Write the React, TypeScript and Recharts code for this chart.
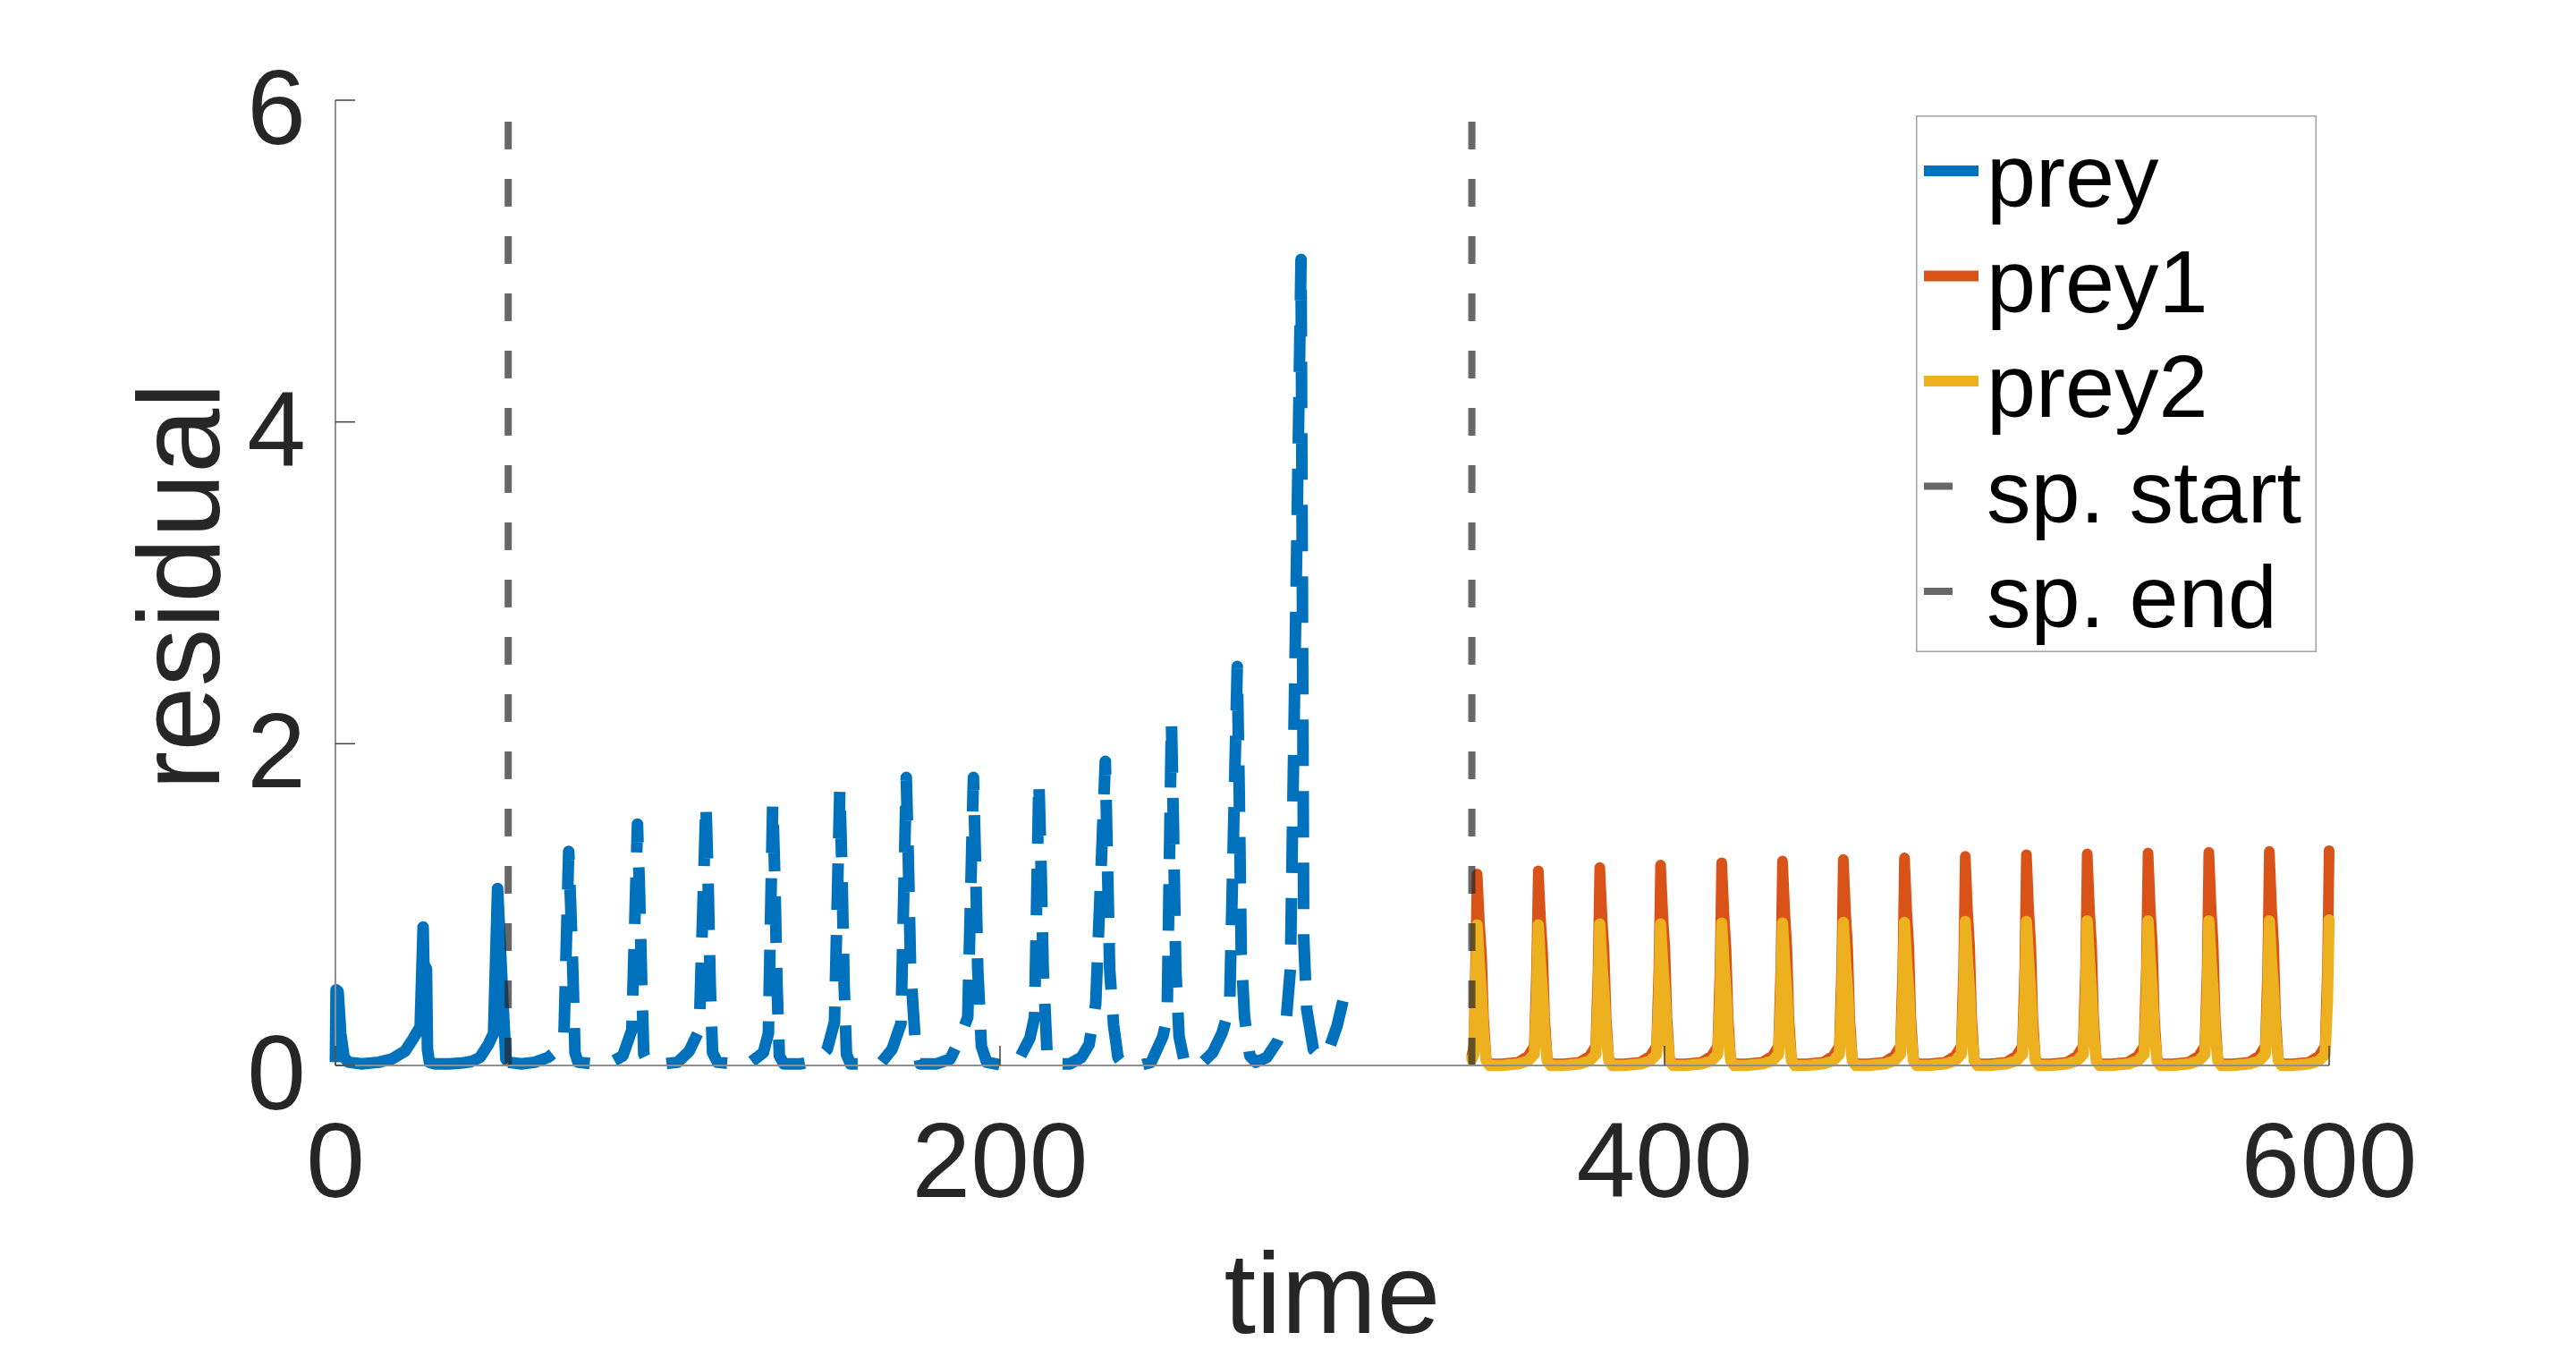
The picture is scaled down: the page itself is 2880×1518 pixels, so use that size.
import { LineChart, Line, XAxis, YAxis, Legend } from "recharts";

const W = 2880;
const H = 1518;
const PLOT = { left: 375, top: 112, right: 2604, bottom: 1191 };
const FONT = '"Liberation Sans", Arial, Helvetica, sans-serif';
const TICK_LEN = 22;

const BLUE = "#0072BD";
const ORANGE = "#D95319";
const YELLOW = "#EDB120";
const XLINE = "#262626";
const AXIS = "#8f8f8f";
const TICK = "#404040";
const TEXT = "#262626";

const xTicks = [0, 200, 400, 600];
const yTicks = [0, 2, 4, 6];

// sp. start / sp. end markers
const spStart = 52;
const spEnd = 342;

// prey, solid part before the start marker
const preyTime = [
  0, 0.2, 0.8, 1.6, 2.6, 4, 8, 13, 17, 21, 23.5, 25.5, 26.4, 26.6, 27.4, 27.7, 28.3, 30,
  34, 38, 41, 43.5, 46, 47.6, 48.8, 49.6, 50.4, 51.3, 52,
];
const preyValues = [
  0.02, 0.47, 0.46, 0.2, 0.05, 0.02, 0.01, 0.02, 0.04, 0.09, 0.17, 0.24, 0.86, 0.63, 0.6, 0.1, 0.02, 0.01,
  0.01, 0.015, 0.025, 0.05, 0.13, 0.2, 1.1, 0.75, 0.4, 0.04, 0.02,
];

// prey, dashed part after the start marker
const preyDashTime = [
  52, 56, 60, 64, 67, 68.8, 70.2, 70.8, 71.5, 72.1, 73,
  78, 83, 86.5, 89.2, 90.9, 91.5, 92.2, 92.8, 94,
  99, 103, 106.5, 109.5, 111.5, 112.1, 112.8, 113.5, 115,
  120, 125, 128.8, 130.3, 131.6, 132.2, 132.9, 133.6, 135,
  140, 145, 148, 150.2, 151.8, 152.4, 153.1, 153.8, 155,
  160, 164, 167.5, 170.2, 171.8, 172.4, 173.1, 174.5, 176,
  181, 185, 187.8, 190.3, 192.0, 192.6, 193.3, 194.4, 196,
  201, 205.5, 209, 210.4, 211.7, 212.3, 213.0, 214.2, 216,
  221, 224.5, 226.8, 228.8, 231.7, 232.3, 233.0, 234.2, 235.5, 237,
  242, 245.5, 249, 250.3, 251.6, 252.2, 252.9, 253.9, 255.5,
  260, 264, 266.8, 269.1, 271.4, 272.0, 272.6, 273.6, 275.2, 277,
  280.3, 283.5, 286.2, 287.4, 290.6, 291.0, 291.4, 292.3, 294.3, 296.5, 299, 301.5, 303.2,
];
const preyDashValues = [
  0.02, 0.01, 0.02, 0.05, 0.1, 0.2, 1.33, 1.0, 0.55, 0.08, 0.02,
  0.01, 0.02, 0.06, 0.22, 1.5, 1.1, 0.5, 0.07, 0.02,
  0.01, 0.02, 0.09, 0.22, 1.63, 1.2, 0.5, 0.08, 0.02,
  0.01, 0.02, 0.08, 0.2, 1.63, 1.2, 0.5, 0.06, 0.01,
  0.01, 0.03, 0.1, 0.27, 1.72, 1.25, 0.5, 0.07, 0.01,
  0.01, 0.01, 0.1, 0.26, 1.79, 1.3, 0.6, 0.15, 0.01,
  0.01, 0.04, 0.16, 0.3, 1.79, 1.3, 0.6, 0.12, 0.02,
  0.0, 0.03, 0.17, 0.3, 1.77, 1.3, 0.6, 0.06, 0.01,
  0.01, 0.05, 0.13, 0.38, 1.89, 1.3, 0.6, 0.25, 0.05, 0.01,
  0.0, 0.02, 0.18, 0.3, 2.14, 1.5, 0.6, 0.18, 0.02,
  0.0, 0.08, 0.2, 0.36, 2.48, 1.7, 0.7, 0.3, 0.06, 0.02,
  0.05, 0.15, 0.3, 0.6, 5.01, 3.0, 0.8, 0.35, 0.1, 0.05, 0.1, 0.25, 0.4,
];

// prey1 / prey2 after the end marker (shared time axis)
const tailTime = [
  342.0, 342.6, 343.1, 343.6, 344.3, 344.9, 345.5, 346.3, 347.3,
  351.0, 356.0, 359.0, 360.8, 361.5, 362.0, 362.7, 363.3, 363.9, 364.7, 365.7,
  369.5, 374.5, 377.5, 379.3, 380.0, 380.5, 381.2, 381.8, 382.4, 383.2, 384.2,
  387.8, 392.8, 395.8, 397.6, 398.3, 398.8, 399.5, 400.1, 400.7, 401.5, 402.5,
  406.2, 411.2, 414.2, 416.0, 416.7, 417.2, 417.9, 418.5, 419.1, 419.9, 420.9,
  424.5, 429.5, 432.5, 434.3, 435.0, 435.5, 436.2, 436.8, 437.4, 438.2, 439.2,
  442.8, 447.8, 450.8, 452.6, 453.3, 453.8, 454.5, 455.1, 455.7, 456.5, 457.5,
  461.2, 466.2, 469.2, 471.0, 471.7, 472.2, 472.9, 473.5, 474.1, 474.9, 475.9,
  479.5, 484.5, 487.5, 489.3, 490.0, 490.5, 491.2, 491.8, 492.4, 493.2, 494.2,
  497.9, 502.9, 505.9, 507.7, 508.4, 508.9, 509.6, 510.2, 510.8, 511.6, 512.6,
  516.2, 521.2, 524.2, 526.0, 526.7, 527.2, 527.9, 528.5, 529.1, 529.9, 530.9,
  534.5, 539.5, 542.5, 544.3, 545.0, 545.5, 546.2, 546.8, 547.4, 548.2, 549.2,
  552.8, 557.8, 560.8, 562.6, 563.3, 563.8, 564.5, 565.1, 565.7, 566.5, 567.5,
  571.0, 576.0, 579.0, 580.8, 581.5, 582.0, 582.7, 583.3, 583.9, 584.7, 585.7,
  589.0, 594.0, 597.0, 598.8, 599.5, 600.0,
];
const prey1Values = [
  0.06, 0.12, 0.6, 1.19, 0.88, 0.7, 0.3, 0.04, 0.01,
  0.01, 0.02, 0.06, 0.12, 0.6, 1.21, 0.9, 0.7, 0.3, 0.04, 0.01,
  0.01, 0.02, 0.06, 0.12, 0.6, 1.23, 0.91, 0.71, 0.3, 0.04, 0.01,
  0.01, 0.02, 0.06, 0.12, 0.6, 1.245, 0.92, 0.72, 0.3, 0.04, 0.01,
  0.01, 0.02, 0.06, 0.12, 0.6, 1.26, 0.93, 0.72, 0.3, 0.04, 0.01,
  0.01, 0.02, 0.06, 0.12, 0.6, 1.27, 0.94, 0.73, 0.3, 0.04, 0.01,
  0.01, 0.02, 0.06, 0.12, 0.6, 1.28, 0.94, 0.73, 0.3, 0.04, 0.01,
  0.01, 0.02, 0.06, 0.12, 0.6, 1.29, 0.95, 0.74, 0.3, 0.04, 0.01,
  0.01, 0.02, 0.06, 0.12, 0.6, 1.3, 0.95, 0.74, 0.3, 0.04, 0.01,
  0.01, 0.02, 0.06, 0.12, 0.6, 1.31, 0.96, 0.75, 0.3, 0.04, 0.01,
  0.01, 0.02, 0.06, 0.12, 0.6, 1.315, 0.96, 0.75, 0.3, 0.04, 0.01,
  0.01, 0.02, 0.06, 0.12, 0.6, 1.32, 0.96, 0.75, 0.3, 0.04, 0.01,
  0.01, 0.02, 0.06, 0.12, 0.6, 1.325, 0.97, 0.75, 0.3, 0.04, 0.01,
  0.01, 0.02, 0.06, 0.12, 0.6, 1.33, 0.97, 0.75, 0.3, 0.04, 0.01,
  0.01, 0.02, 0.06, 0.12, 0.6, 1.335,
];
const prey2Values = [
  0.04, 0.07, 0.4, 0.875, 0.62, 0.45, 0.2, 0.03, 0.0,
  0.0, 0.01, 0.03, 0.07, 0.4, 0.875, 0.62, 0.45, 0.2, 0.03, 0.0,
  0.0, 0.01, 0.03, 0.07, 0.4, 0.88, 0.62, 0.45, 0.2, 0.03, 0.0,
  0.0, 0.01, 0.03, 0.07, 0.4, 0.88, 0.62, 0.45, 0.2, 0.03, 0.0,
  0.0, 0.01, 0.03, 0.07, 0.4, 0.885, 0.63, 0.45, 0.2, 0.03, 0.0,
  0.0, 0.01, 0.03, 0.07, 0.4, 0.885, 0.63, 0.45, 0.2, 0.03, 0.0,
  0.0, 0.01, 0.03, 0.07, 0.4, 0.89, 0.63, 0.46, 0.2, 0.03, 0.0,
  0.0, 0.01, 0.03, 0.07, 0.4, 0.89, 0.63, 0.46, 0.2, 0.03, 0.0,
  0.0, 0.01, 0.03, 0.07, 0.4, 0.895, 0.64, 0.46, 0.2, 0.03, 0.0,
  0.0, 0.01, 0.03, 0.07, 0.4, 0.895, 0.64, 0.46, 0.2, 0.03, 0.0,
  0.0, 0.01, 0.03, 0.07, 0.4, 0.9, 0.64, 0.46, 0.2, 0.03, 0.0,
  0.0, 0.01, 0.03, 0.07, 0.4, 0.9, 0.64, 0.46, 0.2, 0.03, 0.0,
  0.0, 0.01, 0.03, 0.07, 0.4, 0.9, 0.64, 0.46, 0.2, 0.03, 0.0,
  0.0, 0.01, 0.03, 0.07, 0.4, 0.9, 0.64, 0.46, 0.2, 0.03, 0.0,
  0.0, 0.01, 0.03, 0.07, 0.4, 0.905,
];

const legendItems = [
  { label: "prey", color: BLUE, marker: false },
  { label: "prey1", color: ORANGE, marker: false },
  { label: "prey2", color: YELLOW, marker: false },
  { label: "sp. start", color: XLINE, marker: true },
  { label: "sp. end", color: XLINE, marker: true },
];

const zip = (ts: number[], vs: number[]) => ts.map((t, i) => ({ t, v: vs[i] }));

const preySolid = zip(preyTime, preyValues);
const preyDashed = zip(preyDashTime, preyDashValues);
const prey1 = zip(tailTime, prey1Values);
const prey2 = zip(tailTime, prey2Values);
const startLine = [{ t: spStart, v: 0 }, { t: spStart, v: 6 }];
const endLine = [{ t: spEnd, v: 0 }, { t: spEnd, v: 6 }];

const labelStyle = { fontSize: 118, fill: TEXT, fontFamily: FONT };

// inward tick marks drawn with the tick labels (MATLAB style)
const BottomTick = (props: any) => {
  const { x, y, payload } = props;
  return (
    <g>
      <line x1={x} x2={x} y1={PLOT.bottom} y2={PLOT.bottom - TICK_LEN} stroke={TICK} strokeWidth={1.5} />
      <text x={x} y={y} dy={84} textAnchor="middle" {...labelStyle}>
        {payload.value}
      </text>
    </g>
  );
};

const LeftTick = (props: any) => {
  const { x, y, payload } = props;
  return (
    <g>
      <line x1={PLOT.left} x2={PLOT.left + TICK_LEN} y1={y} y2={y} stroke={TICK} strokeWidth={1.5} />
      <text x={x} y={y} dy={49} textAnchor="end" {...labelStyle}>
        {payload.value}
      </text>
    </g>
  );
};

const TopTick = (props: any) => (
  <line x1={props.x} x2={props.x} y1={PLOT.top} y2={PLOT.top + TICK_LEN} stroke={TICK} strokeWidth={1.5} />
);

const RightTick = (props: any) => (
  <line x1={PLOT.right} x2={PLOT.right - TICK_LEN} y1={props.y} y2={props.y} stroke={TICK} strokeWidth={1.5} />
);

const XTitle = () => (
  <text x={(PLOT.left + PLOT.right) / 2} y={1490} textAnchor="middle" fontSize={128} fontFamily={FONT} fill={TEXT}>
    time
  </text>
);

const YTitle = () => (
  <text
    transform={`translate(245, ${(PLOT.top + PLOT.bottom) / 2 + 4}) rotate(-90)`}
    textAnchor="middle"
    fontSize={130}
    fontFamily={FONT}
    fill={TEXT}
  >
    residual
  </text>
);

const LegendBox = () => (
  <svg width={448} height={600} style={{ display: "block" }}>
    <rect x={0.75} y={0.75} width={446.5} height={598.5} fill="#fff" stroke="#a0a0a0" strokeWidth={1.5} />
    {legendItems.map((it, i) => {
      const base = 102 + i * 117.5;
      return (
        <g key={it.label}>
          <line
            x1={9}
            x2={it.marker ? 41 : 70}
            y1={base - 40}
            y2={base - 40}
            stroke={it.color}
            strokeOpacity={it.marker ? 0.7 : 1}
            strokeWidth={it.marker ? 8 : 12}
          />
          <text x={79} y={base} fontSize={99} fontFamily={FONT} fill="#000">
            {it.label}
          </text>
        </g>
      );
    })}
  </svg>
);

export default function App() {
  const axisLine = { stroke: AXIS, strokeWidth: 2 };
  return (
    <div style={{ position: "absolute", left: 0, top: 0, width: W, height: H, background: "#fff" }}>
      <LineChart
        width={W}
        height={H}
        margin={{ top: PLOT.top, right: W - PLOT.right, bottom: H - PLOT.bottom - 100, left: PLOT.left - 100 }}
      >
        <XAxis
          xAxisId="b"
          type="number"
          dataKey="t"
          domain={[0, 600]}
          ticks={xTicks}
          interval={0}
          height={100}
          axisLine={axisLine}
          tickLine={false}
          tickSize={0}
          tickMargin={63}
          tick={<BottomTick />}
          label={<XTitle />}
        />
        <XAxis
          xAxisId="top"
          orientation="top"
          type="number"
          dataKey="t"
          domain={[0, 600]}
          ticks={xTicks}
          interval={0}
          height={0}
          allowDataOverflow
          axisLine={axisLine}
          tickLine={false}
          tickSize={0}
          tick={<TopTick />}
        />
        <YAxis
          yAxisId="l"
          type="number"
          domain={[0, 6]}
          ticks={yTicks}
          interval={0}
          width={100}
          axisLine={axisLine}
          tickLine={false}
          tickSize={0}
          tickMargin={33}
          tick={<LeftTick />}
          label={<YTitle />}
        />
        <YAxis
          yAxisId="r"
          orientation="right"
          type="number"
          domain={[0, 6]}
          ticks={yTicks}
          interval={0}
          width={0}
          allowDataOverflow
          axisLine={axisLine}
          tickLine={false}
          tickSize={0}
          tick={<RightTick />}
        />
        <Line xAxisId="b" yAxisId="l" data={preySolid} dataKey="v" type="linear" stroke={BLUE} strokeWidth={13} strokeLinejoin="round" dot={false} isAnimationActive={false} />
        <Line xAxisId="b" yAxisId="l" data={preyDashed} dataKey="v" type="linear" stroke={BLUE} strokeWidth={13} strokeDasharray="52 28" strokeLinejoin="round" dot={false} isAnimationActive={false} />
        <Line xAxisId="b" yAxisId="l" data={prey1} dataKey="v" type="linear" stroke={ORANGE} strokeWidth={12} strokeLinejoin="round" strokeLinecap="round" dot={false} isAnimationActive={false} />
        <Line xAxisId="b" yAxisId="l" data={prey2} dataKey="v" type="linear" stroke={YELLOW} strokeWidth={12.5} strokeLinejoin="round" strokeLinecap="round" dot={false} isAnimationActive={false} />
        <Line xAxisId="b" yAxisId="l" data={startLine} dataKey="v" type="linear" stroke={XLINE} strokeOpacity={0.7} strokeWidth={8} strokeDasharray="31 33" dot={false} isAnimationActive={false} />
        <Line xAxisId="b" yAxisId="l" data={endLine} dataKey="v" type="linear" stroke={XLINE} strokeOpacity={0.7} strokeWidth={8} strokeDasharray="31 33" dot={false} isAnimationActive={false} />
        <Legend
          layout="horizontal"
          align="center"
          verticalAlign="middle"
          content={<LegendBox />}
          wrapperStyle={{ left: 2142, top: 129, width: 448, height: 600 }}
        />
      </LineChart>
    </div>
  );
}
